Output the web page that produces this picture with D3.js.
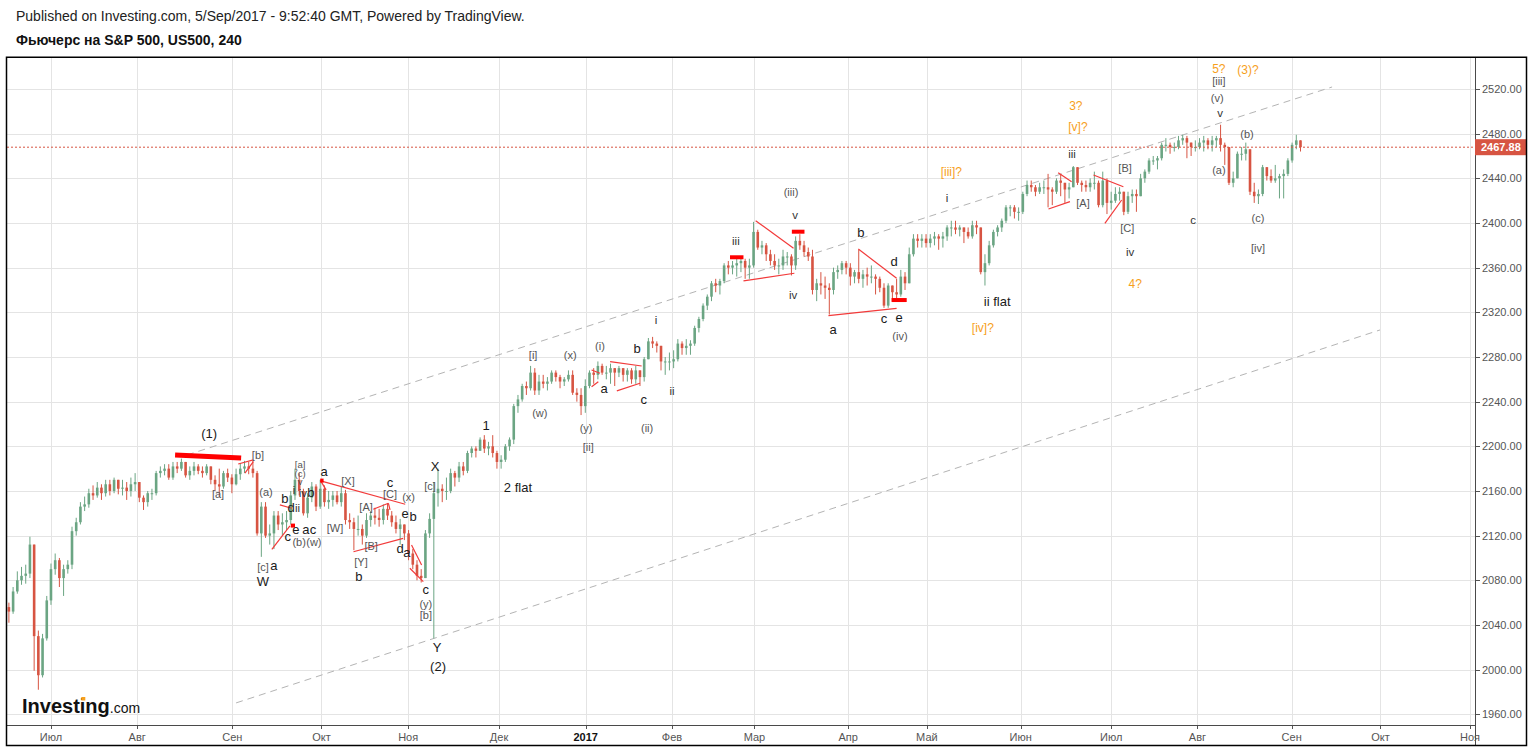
<!DOCTYPE html>
<html><head><meta charset="utf-8">
<script src="https://cdn.jsdelivr.net/npm/d3@7"></script>
<style>
html,body{margin:0;padding:0;background:#fff;}
svg{display:block;font-family:"Liberation Sans",Arial,sans-serif;}
</style>
</head><body>
<svg id="c" width="1533" height="749"></svg>
<script>
// ---------------- DATA ----------------
const firstOpen = 2056;
const highs = [
2060,2074,2088,2092,2094,2119,2112,2035,2032,2066,
2095,2104,2100,2094,2098,2128,2136,2150,2155,2162,
2165,2168,2166,2170,2170,2172,2168,2170,2168,2172,
2176,2168,2156,2160,2162,2178,2182,2184,2184,2186,
2186,2189,2186,2182,2186,2184,2182,2184,2182,2174,
2180,2178,2180,2175,2180,2185,2187,2186,2187,2178,
2150,2150,2130,2142,2142,2140,2142,2160,2180,2176,
2162,2158,2168,2166,2170,2165,2160,2160,2160,2164,
2161,2140,2136,2138,2130,2140,2142,2145,2144,2148,
2149,2142,2138,2135,2130,2125,2108,2098,2090,2125,
2140,2168,2180,2166,2172,2180,2178,2186,2186,2196,
2200,2200,2208,2210,2204,2210,2196,2192,2202,2208,
2238,2246,2256,2258,2272,2270,2264,2264,2262,2268,
2268,2264,2262,2268,2268,2252,2252,2260,2268,2270,
2276,2274,2272,2274,2270,2272,2270,2270,2270,2272,
2268,2280,2297,2298,2294,2288,2280,2284,2286,2296,
2294,2296,2295,2308,2316,2328,2336,2348,2350,2350,
2364,2366,2366,2368,2370,2368,2368,2401,2394,2384,
2382,2376,2372,2368,2376,2374,2372,2388,2390,2384,
2378,2376,2350,2356,2352,2346,2360,2362,2366,2366,
2364,2358,2376,2358,2360,2362,2354,2352,2346,2346,
2344,2350,2358,2356,2378,2390,2390,2390,2390,2390,
2392,2390,2392,2398,2402,2402,2398,2396,2396,2402,
2402,2396,2372,2384,2394,2398,2404,2416,2416,2416,
2414,2428,2438,2438,2434,2436,2438,2444,2432,2440,
2444,2436,2436,2451,2450,2438,2438,2440,2446,2438,
2446,2440,2428,2432,2432,2428,2428,2430,2430,2444,
2448,2458,2460,2460,2472,2476,2472,2472,2478,2479,
2478,2472,2474,2476,2478,2476,2478,2478,2488,2472,
2468,2446,2464,2468,2472,2466,2436,2430,2452,2450,
2448,2452,2444,2448,2458,2472,2479,2474];
const lows = [
2042,2050,2068,2076,2077,2082,1999,1982,1993,2026,
2058,2085,2074,2066,2086,2090,2120,2130,2142,2145,
2152,2154,2152,2155,2156,2158,2157,2156,2152,2155,
2160,2150,2143,2146,2152,2156,2172,2174,2170,2170,
2176,2178,2172,2170,2174,2175,2172,2174,2166,2160,
2155,2162,2168,2158,2165,2170,2176,2175,2172,2120,
2101,2118,2112,2108,2125,2120,2125,2130,2152,2156,
2138,2136,2150,2142,2144,2146,2144,2146,2148,2146,
2130,2126,2107,2120,2112,2118,2128,2130,2128,2130,
2134,2128,2122,2112,2116,2098,2090,2080,2078,2082,
2118,2028,2146,2150,2152,2158,2164,2168,2174,2176,
2190,2190,2196,2194,2192,2190,2180,2180,2186,2196,
2202,2230,2240,2246,2250,2246,2246,2252,2250,2256,
2258,2252,2254,2258,2246,2240,2228,2230,2252,2256,
2260,2264,2260,2256,2254,2262,2258,2258,2256,2256,
2254,2258,2278,2288,2284,2268,2264,2268,2270,2276,
2282,2282,2282,2290,2302,2312,2322,2330,2338,2336,
2346,2354,2354,2352,2356,2350,2350,2360,2376,2372,
2366,2362,2358,2354,2358,2362,2353,2358,2376,2370,
2366,2336,2330,2336,2332,2318,2336,2350,2354,2354,
2344,2346,2346,2342,2344,2346,2336,2338,2324,2324,
2330,2332,2334,2340,2366,2370,2378,2378,2378,2378,
2380,2376,2378,2384,2388,2390,2388,2382,2386,2386,
2390,2354,2344,2362,2378,2388,2392,2400,2406,2404,
2402,2408,2424,2428,2424,2426,2426,2414,2416,2426,
2424,2418,2422,2432,2434,2428,2428,2428,2430,2414,
2414,2408,2412,2418,2420,2407,2408,2418,2410,2424,
2436,2444,2452,2448,2456,2464,2462,2464,2466,2470,
2458,2460,2464,2466,2464,2466,2464,2468,2464,2452,
2434,2432,2440,2456,2456,2425,2418,2417,2424,2438,
2436,2436,2422,2422,2442,2454,2466,2464];
const closes = [
2052,2070,2080,2084,2086,2112,2030,1995,2028,2062,
2090,2098,2082,2090,2094,2124,2132,2146,2148,2158,
2156,2163,2158,2166,2160,2170,2162,2163,2160,2166,
2168,2154,2150,2158,2158,2176,2178,2180,2172,2182,
2180,2186,2174,2178,2182,2178,2176,2182,2170,2166,
2164,2176,2172,2166,2175,2180,2182,2180,2176,2122,
2146,2120,2122,2138,2130,2132,2134,2156,2170,2160,
2140,2154,2164,2146,2162,2150,2152,2156,2150,2158,
2134,2132,2126,2126,2120,2134,2138,2136,2134,2144,
2138,2132,2126,2130,2122,2104,2094,2084,2082,2122,
2135,2158,2162,2160,2160,2176,2172,2182,2178,2194,
2198,2196,2206,2198,2200,2194,2186,2188,2200,2206,
2236,2242,2254,2252,2266,2250,2258,2256,2258,2266,
2262,2258,2260,2264,2248,2246,2236,2254,2266,2264,
2272,2266,2266,2270,2266,2270,2264,2268,2260,2268,
2262,2278,2294,2292,2290,2276,2276,2276,2278,2292,
2288,2290,2292,2306,2314,2326,2334,2346,2344,2348,
2362,2360,2362,2364,2366,2360,2362,2392,2378,2380,
2372,2366,2362,2362,2370,2370,2362,2384,2380,2374,
2370,2340,2346,2344,2342,2340,2356,2358,2364,2360,
2352,2356,2350,2354,2352,2352,2350,2342,2326,2344,
2338,2336,2352,2346,2372,2386,2384,2386,2382,2386,
2388,2386,2388,2396,2396,2394,2396,2392,2388,2398,
2396,2356,2364,2380,2392,2396,2402,2414,2414,2410,
2410,2426,2434,2432,2428,2432,2432,2430,2428,2438,
2436,2430,2432,2450,2436,2434,2432,2436,2436,2416,
2438,2418,2420,2426,2428,2410,2424,2426,2424,2440,
2446,2456,2456,2458,2470,2470,2468,2468,2474,2476,
2472,2468,2468,2472,2474,2470,2474,2476,2470,2468,
2436,2440,2462,2462,2466,2428,2424,2426,2450,2442,
2438,2440,2442,2444,2456,2470,2474,2467.88];

const lastPrice = 2467.88;
const priceTicks = [1960,2000,2040,2080,2120,2160,2200,2240,2280,2320,2360,2400,2440,2480,2520];
const monthTickIdx = [10,30.5,53.1,74.3,94.9,116.5,137.1,157.6,177.2,199.5,218.2,240.5,262,282.5,304.9,326,347.3];
const monthTickLabels = ["Июл","Авг","Сен","Окт","Ноя","Дек","2017","Фев","Мар","Апр","Май","Июн","Июл","Авг","Сен","Окт","Ноя"];

// Elliott wave labels: [barIndex, price, text, kind]  L=large black, S=small dark, G=gray bracket, T=tiny gray, O=orange
const waveLabels = [
[47.6,2211.1,"(1)","L"],[59.2,2192.2,"[b]","G"],[49.7,2157.3,"[a]","G"],[61.1,2159.1,"(a)","G"],
[60.4,2091.9,"[c]","G"],[63.0,2093.7,"a","L"],[60.4,2078.5,"W","L"],
[65.6,2152.9,"b","L"],[67.1,2144.8,"d","L"],[68.6,2144.8,"ii","S"],[66.3,2118.8,"c","L"],[68.2,2125.6,"e","L"],
[70.6,2125.6,"a","L"],[72.3,2125.6,"c","L"],[69.0,2114.7,"(b)","G"],[72.5,2114.7,"(w)","G"],
[67.8,2160.9,"i","S"],[69.9,2158.2,"iv","S"],[71.8,2158.2,"b","L"],
[69.2,2184.0,"[a]","T"],[69.2,2176.0,"(c)","T"],[69.2,2168.4,"v","T"],
[74.9,2177.0,"a","L"],[80.6,2169.0,"[X]","G"],[77.5,2126.9,"[W]","G"],[84.9,2145.7,"[A]","G"],
[90.6,2168.0,"c","L"],[90.6,2157.5,"[C]","G"],[95.0,2154.6,"(x)","G"],[94.2,2139.4,"e","L"],[96.1,2136.7,"b","L"],
[93.0,2108.9,"d","L"],[94.6,2104.5,"a","L"],[86.1,2110.8,"[B]","G"],[83.7,2096.4,"[Y]","G"],[83.2,2083.0,"b","L"],
[99.1,2071.5,"c","L"],[99.1,2059.0,"(y)","G"],[99.1,2049.0,"[b]","G"],[101.8,2019.4,"Y","L"],[102.0,2002.4,"(2)","L"],
[101.3,2181.5,"X","L"],[100.1,2164.5,"[c]","G"],
[113.4,2218.2,"1","L"],[121.0,2162.7,"2 flat","L"],
[124.6,2281.8,"[i]","G"],[133.4,2281.8,"(x)","G"],[126.2,2229.9,"(w)","G"],[137.2,2216.4,"(y)","G"],[137.7,2199.4,"[ii]","G"],
[140.5,2289.9,"(i)","G"],[141.5,2251.4,"a","L"],[149.3,2287.2,"b","L"],[150.9,2241.5,"c","L"],[151.7,2216.4,"(ii)","G"],
[153.8,2313.1,"i","S"],[157.6,2249.6,"ii","S"],[172.8,2383.9,"iii","S"],[185.9,2427.8,"(iii)","G"],[186.9,2407.2,"v","S"],[186.4,2335.5,"iv","S"],
[202.5,2391.9,"b","L"],[195.9,2304.2,"a","L"],[210.4,2365.1,"d","L"],[208.0,2314.9,"c","L"],[211.6,2315.8,"e","L"],[211.8,2298.8,"(iv)","G"],
[223.0,2422.4,"i","S"],[234.9,2329.3,"ii flat","L"],[252.7,2461.8,"iii","S"],[255.3,2417.9,"[A]","G"],[265.3,2449.3,"[B]","G"],
[265.8,2395.5,"[C]","G"],[266.5,2374.0,"iv","S"],[281.5,2402.7,"c","S"],
[287.6,2527.2,"[iii]","G"],[287.2,2511.9,"(v)","G"],[287.9,2498.5,"v","S"],[287.6,2447.5,"(a)","G"],[294.3,2479.7,"(b)","G"],
[296.9,2404.5,"(c)","G"],[296.9,2377.6,"[iv]","G"],
[224.0,2445.7,"[iii]?","O"],[231.5,2306.0,"[iv]?","O"],[253.6,2504.8,"3?","O"],[254.1,2486.0,"[v]?","O"],
[267.7,2345.4,"4?","O"],[287.6,2537.9,"5?","O"],[294.5,2537.0,"(3)?","O"]
];

// thin red trend lines [i1,p1,i2,p2]
const redLines = [
[54.5,2184.2,58.1,2187.8],[56.1,2175.9,58.1,2186.2],[62.5,2107.8,66.8,2128.7],[64.4,2147.5,67.2,2144.5],
[74.1,2169.0,94.2,2148.1],[74.1,2169.0,75.4,2161.0],[86.6,2143.6,90.2,2149.0],[90.2,2149.0,90.6,2143.0],
[81.9,2105.6,93.7,2117.6],[95.3,2090.8,98.5,2078.8],[95.7,2111.7,98.1,2093.7],
[138.5,2268.4,140.5,2265.4],[138.5,2253.4,140.1,2257.9],[142.9,2275.8,150.4,2271.9],[144.5,2249.6,150.0,2256.5],
[177.5,2402.1,186.5,2377.3],[174.6,2348.1,186.7,2355.0],[201.9,2376.7,211.0,2350.5],[194.8,2317.0,211.0,2323.6],
[247.1,2412.5,252.2,2419.1],[249.4,2445.0,252.6,2437.0],[257.8,2443.0,264.9,2432.5],[260.5,2399.7,264.5,2420.6]
];
// thick red marks [i1,p1,i2,p2,width]
const thickMarks = [
[39.5,2192.2,55.2,2189.6,5],[171.4,2369.3,174.6,2369.3,4],[186.1,2392.2,189.1,2392.2,4],[209.8,2331.0,213.4,2331.0,4],
[67.0,2129.0,68.0,2129.0,4],[74.0,2169.3,74.8,2169.3,4]
];
// dashed channel [i1,p1,i2,p2]
const channel = [[42.3,2192.2,314.5,2521.8],[54.0,1970.2,325.9,2304.2]];

// ---------------- CHART ----------------
const UP = "#6ba583", DN = "#d75442";
const plot = {l:7, r:1475, t:58, b:725};
const svg = d3.select("#c");
const x = d3.scaleLinear().domain([0,307]).range([8.9,1300.5]);
const y = d3.scaleLinear().domain([1960,2520]).range([714.3,89]);

svg.append("rect").attr("width",1533).attr("height",749).attr("fill","#fff");

// header
svg.append("text").attr("x",16).attr("y",21).attr("font-size",14).attr("fill","#222")
  .text("Published on Investing.com, 5/Sep/2017 - 9:52:40 GMT, Powered by TradingView.");
svg.append("text").attr("x",16).attr("y",45).attr("font-size",14).attr("font-weight","bold").attr("fill","#111")
  .text("Фьючерс на S&P 500, US500, 240");

svg.append("defs").append("clipPath").attr("id","clip").append("rect")
  .attr("x",plot.l).attr("y",plot.t).attr("width",plot.r-plot.l).attr("height",plot.b-plot.t);

// grid
const grid = svg.append("g");
grid.selectAll("line.h").data(priceTicks).join("line")
  .attr("x1",plot.l).attr("x2",plot.r).attr("y1",d=>Math.round(y(d))+0.5).attr("y2",d=>Math.round(y(d))+0.5)
  .attr("stroke","#e4e4e4").attr("stroke-width",1);
grid.selectAll("line.v").data(monthTickIdx).join("line")
  .attr("x1",d=>Math.round(x(d))+0.5).attr("x2",d=>Math.round(x(d))+0.5).attr("y1",plot.t).attr("y2",plot.b)
  .attr("stroke","#e4e4e4").attr("stroke-width",1);

const clipG = svg.append("g").attr("clip-path","url(#clip)");

// channel lines
clipG.selectAll("line.ch").data(channel).join("line")
  .attr("x1",d=>x(d[0])).attr("y1",d=>y(d[1])).attr("x2",d=>x(d[2])).attr("y2",d=>y(d[3]))
  .attr("stroke","#b4b4b4").attr("stroke-width",1).attr("stroke-dasharray","7,5");

// candles
const opens = [firstOpen].concat(closes.slice(0,-1));
const bars = closes.map((c,i)=>({i, o:opens[i], h:highs[i], l:lows[i], c}));
const col = d=> d.c>=d.o ? UP : DN;
clipG.selectAll("line.wick").data(bars).join("line")
  .attr("x1",d=>x(d.i)).attr("x2",d=>x(d.i))
  .attr("y1",d=>y(Math.max(d.h,d.o,d.c))).attr("y2",d=>y(Math.min(d.l,d.o,d.c)))
  .attr("stroke",col).attr("stroke-width",1);
clipG.selectAll("rect.body").data(bars).join("rect")
  .attr("x",d=>x(d.i)-1.3).attr("width",2.6)
  .attr("y",d=>y(Math.max(d.o,d.c)))
  .attr("height",d=>Math.max(1,Math.abs(y(d.o)-y(d.c))))
  .attr("fill",col);

// red lines
clipG.selectAll("line.rl").data(redLines).join("line")
  .attr("x1",d=>x(d[0])).attr("y1",d=>y(d[1])).attr("x2",d=>x(d[2])).attr("y2",d=>y(d[3]))
  .attr("stroke","#f23a3a").attr("stroke-width",1.2);
clipG.selectAll("line.tm").data(thickMarks).join("line")
  .attr("x1",d=>x(d[0])).attr("y1",d=>y(d[1])).attr("x2",d=>x(d[2])).attr("y2",d=>y(d[3]))
  .attr("stroke","#ff0000").attr("stroke-width",d=>d[4]);

// labels
const styles = {
  L:{size:13,fill:"#1a1a1a"},
  S:{size:11.5,fill:"#333"},
  G:{size:11,fill:"#555"},
  T:{size:9.5,fill:"#555"},
  O:{size:12,fill:"#f7a01c"}
};
clipG.selectAll("text.wl").data(waveLabels).join("text")
  .attr("x",d=>x(d[0])).attr("y",d=>y(d[1]))
  .attr("text-anchor","middle").attr("dominant-baseline","central")
  .attr("font-size",d=>styles[d[3]].size).attr("fill",d=>styles[d[3]].fill)
  .text(d=>d[2]);

// last price line
clipG.append("line").attr("x1",plot.l).attr("x2",plot.r)
  .attr("y1",y(lastPrice)).attr("y2",y(lastPrice))
  .attr("stroke",DN).attr("stroke-width",1).attr("stroke-dasharray","2,2");

// logo
const logo = svg.append("text").attr("x",22).attr("y",713);
logo.append("tspan").attr("font-size",20).attr("font-weight","bold").attr("fill","#111").text("Investing");
logo.append("tspan").attr("font-size",14).attr("fill","#111").text(".com");
svg.append("rect").attr("x",81.3).attr("y",697).attr("width",4).attr("height",3.5).attr("fill","#f7a01c");

// axes
svg.append("line").attr("x1",plot.l).attr("x2",plot.r).attr("y1",725.5).attr("y2",725.5).attr("stroke","#4a4a4a").attr("stroke-width",1);
svg.append("line").attr("x1",1475.5).attr("x2",1475.5).attr("y1",plot.t).attr("y2",745).attr("stroke","#4a4a4a").attr("stroke-width",1);

const ya = svg.append("g");
ya.selectAll("line").data(priceTicks).join("line")
  .attr("x1",1476).attr("x2",1480).attr("y1",d=>Math.round(y(d))+0.5).attr("y2",d=>Math.round(y(d))+0.5)
  .attr("stroke","#555");
ya.selectAll("text").data(priceTicks).join("text")
  .attr("x",1482).attr("y",d=>y(d)).attr("dominant-baseline","central")
  .attr("font-size",11).attr("fill","#555").text(d=>d3.format(".2f")(d));

// last price tag
svg.append("rect").attr("x",1475).attr("y",y(lastPrice)-8).attr("width",51).attr("height",16).attr("fill",DN);
svg.append("text").attr("x",1481).attr("y",y(lastPrice)).attr("dominant-baseline","central")
  .attr("font-size",11).attr("font-weight","bold").attr("fill","#fff").text(d3.format(".2f")(lastPrice));

const xa = svg.append("g");
xa.selectAll("line").data(monthTickIdx).join("line")
  .attr("x1",d=>Math.round(x(d))+0.5).attr("x2",d=>Math.round(x(d))+0.5).attr("y1",726).attr("y2",729)
  .attr("stroke","#555");
xa.selectAll("text").data(monthTickIdx).join("text")
  .attr("x",d=>x(d)).attr("y",737).attr("text-anchor","middle").attr("dominant-baseline","central")
  .attr("font-size",11)
  .attr("font-weight",(d,k)=>monthTickLabels[k]==="2017"?"bold":"normal")
  .attr("fill",(d,k)=>monthTickLabels[k]==="2017"?"#111":"#555")
  .text((d,k)=>monthTickLabels[k]);

// frame
svg.append("rect").attr("x",6.5).attr("y",57.25).attr("width",1520).attr("height",688.25)
  .attr("fill","none").attr("stroke","#000").attr("stroke-width",1.5);
</script>
</body></html>
